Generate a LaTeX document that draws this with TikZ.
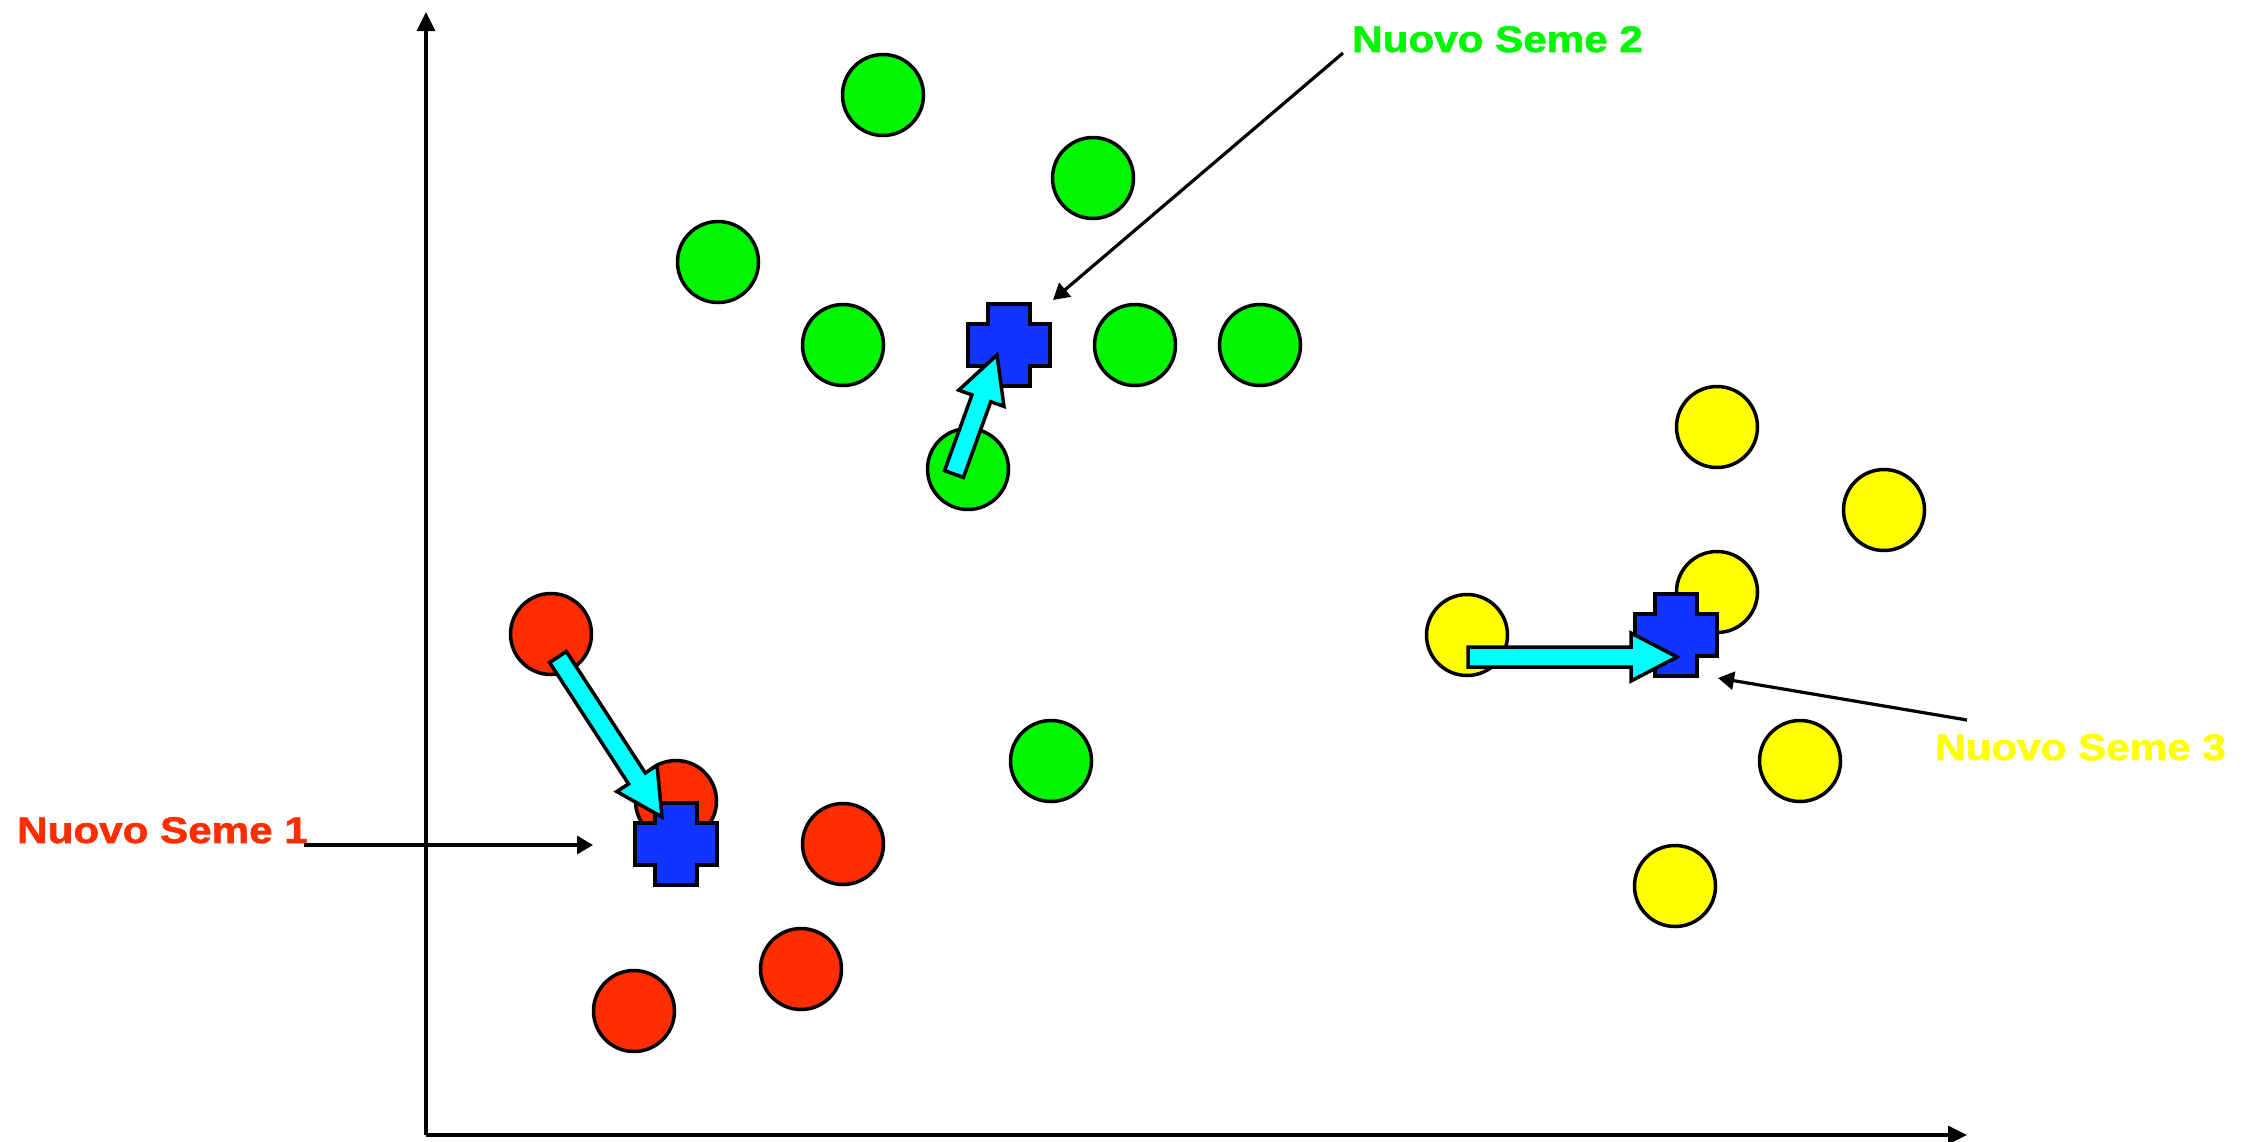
\documentclass[tikz,border=0pt]{standalone}
\usepackage{fontspec}
\newfontfamily\lblfont[FakeStretch=1.14,FakeBold=1.6]{Liberation Sans Bold}
\usetikzlibrary{calc,arrows.meta}
\definecolor{cred}{RGB}{255,45,0}
\definecolor{cgreen}{RGB}{0,245,0}
\definecolor{cyellow}{RGB}{255,255,0}
\definecolor{cblue}{RGB}{18,52,255}
\definecolor{ccyan}{RGB}{0,255,255}
\tikzset{
  pt/.style={circle,draw=black,line width=3.5pt,minimum size=81pt,inner sep=0pt},
  gpt/.style={pt,fill=cgreen},
  rpt/.style={pt,fill=cred},
  ypt/.style={pt,fill=cyellow},
  seedcross/.style={draw=black,fill=cblue,line width=3.5pt,line join=miter},
  fatarr/.style={draw=black,fill=ccyan,line width=3.5pt,line join=miter},
  axisline/.style={line width=3.2pt,-{Triangle[length=19pt,width=18pt]}},
  noteline/.style={line width=3.2pt,-{Triangle[length=16pt,width=18pt]}},
  lbl/.style={inner sep=0pt,font=\lblfont\fontsize{37}{40}\selectfont}
}
\newcommand\seedx[2]{%
  \coordinate (#1) at (#2);
  \draw[seedcross] ($(#1)+(-21,-41)$) -- ($(#1)+(21,-41)$) -- ($(#1)+(21,-21)$) -- ($(#1)+(41,-21)$) -- ($(#1)+(41,21)$) -- ($(#1)+(21,21)$) -- ($(#1)+(21,41)$) -- ($(#1)+(-21,41)$) -- ($(#1)+(-21,21)$) -- ($(#1)+(-41,21)$) -- ($(#1)+(-41,-21)$) -- ($(#1)+(-21,-21)$) -- cycle;}
\newcommand\fatarrow[2]{%
  \path ($(#2)!46pt!(#1)$) coordinate (fah);
  \draw[fatarr] ($(#1)!10pt!90:(#2)$) -- ($(fah)!10pt!-90:(#1)$) -- ($(fah)!24pt!-90:(#1)$) -- (#2) -- ($(fah)!24pt!90:(#1)$) -- ($(fah)!10pt!90:(#1)$) -- ($(#1)!10pt!-90:(#2)$) -- cycle;}
\begin{document}
\begin{tikzpicture}[x=1pt,y=-1pt]
\useasboundingbox (0,0) rectangle (2255,1141);
% axes
\coordinate (o) at (426,1135);
\coordinate (ytop) at (426,12);
\coordinate (xend) at (1967,1135);
\draw[axisline] (o) -- (ytop);
\draw[axisline] (o) -- (xend);
% green points
\node[gpt] (g1) at (883,95) {};
\node[gpt] (g2) at (1093,178) {};
\node[gpt] (g3) at (718,262) {};
\node[gpt] (g4) at (843,345) {};
\node[gpt] (g5) at (1135,345) {};
\node[gpt] (g6) at (1260,345) {};
\node[gpt] (g7) at (968,469) {};
\node[gpt] (g8) at (1051,761) {};
% red points
\node[rpt] (r1) at (551,634) {};
\node[rpt] (r2) at (676,801) {};
\node[rpt] (r3) at (843,844) {};
\node[rpt] (r4) at (801,969) {};
\node[rpt] (r5) at (634,1011) {};
% yellow points
\node[ypt] (y1) at (1717,427) {};
\node[ypt] (y2) at (1884,510) {};
\node[ypt] (y3) at (1717,592) {};
\node[ypt] (y4) at (1467,635) {};
\node[ypt] (y5) at (1800,761) {};
\node[ypt] (y6) at (1675,886) {};
% seeds
\seedx{c1}{676,844}
\seedx{c2}{1009,345}
\seedx{c3}{1676,635}
% movement arrows
\coordinate (a1s) at (558,657);
\coordinate (a1t) at (662,817);
\fatarrow{a1s}{a1t}
\coordinate (a2s) at (954,474);
\coordinate (a2t) at (997,355);
\fatarrow{a2s}{a2t}
\coordinate (a3s) at (1468,657);
\coordinate (a3t) at (1677,657);
\fatarrow{a3s}{a3t}
% labels
\node[lbl,text=cred,anchor=base west] (l1) at (17,843) {Nuovo Seme 1};
\node[lbl,text=cgreen,anchor=base west] (l2) at (1352,52) {Nuovo Seme 2};
\node[lbl,text=cyellow,anchor=base west] (l3) at (1935,760) {Nuovo Seme 3};
\coordinate (t1) at (593,845);
\coordinate (t2) at (1053,300);
\coordinate (t3) at (1718,678);
\coordinate (s3) at (1967,720);
\draw[noteline] ([xshift=-4pt,yshift=-2pt]l1.base east) -- (t1);
\draw[noteline] ([xshift=-9pt,yshift=-1pt]l2.base west) -- (t2);
\draw[noteline] (s3) -- (t3);
\end{tikzpicture}
\end{document}
